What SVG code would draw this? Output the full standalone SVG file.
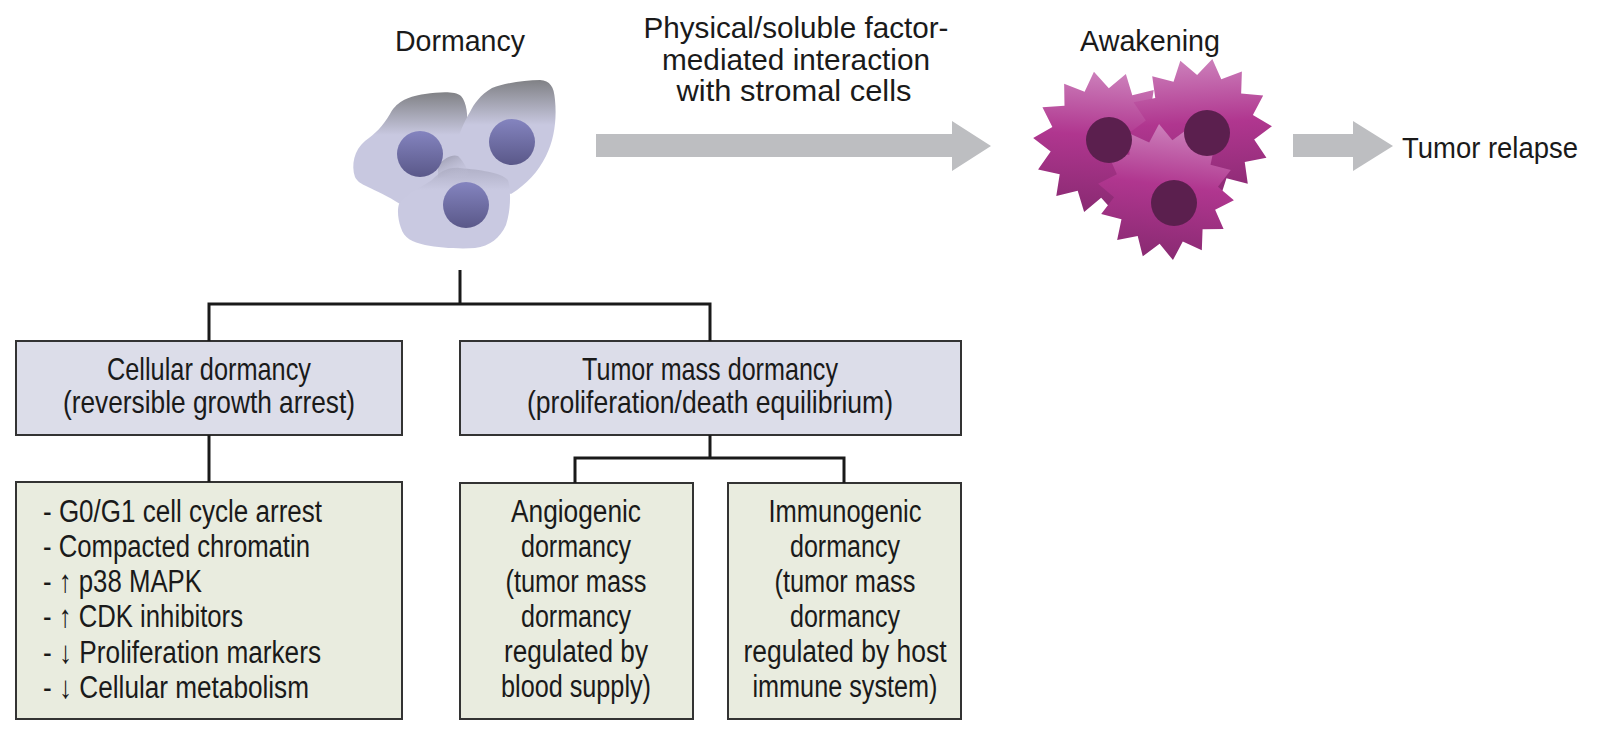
<svg xmlns="http://www.w3.org/2000/svg" xmlns:xlink="http://www.w3.org/1999/xlink" width="1600" height="736" viewBox="0 0 1600 736">
<style>
  text { font-family: "Liberation Sans", Arial, sans-serif; fill: #1a1a1a; }
  .top { font-size: 30px; }
  .bx { font-size: 32px; text-anchor: middle; }
  .ls { font-size: 31px; }
  .c { text-anchor: middle; }
  .boxU { fill: #dcdde9; stroke: #333; stroke-width: 2; }
  .boxL { fill: #e9ecdf; stroke: #333; stroke-width: 2; }
  .conn { fill: none; stroke: #1a1a1a; stroke-width: 3; }
  .garrow { fill: #bdbec1; }
  .nucD { fill: url(#nucDg); }
  .nucA { fill: #5b1f4e; }
</style>
<defs>
  <linearGradient id="cell1g" gradientUnits="userSpaceOnUse" x1="0" y1="92" x2="0" y2="135">
    <stop offset="0" stop-color="#808185"/>
    <stop offset="1" stop-color="#c8c8e0"/>
  </linearGradient>
  <linearGradient id="cell2g" gradientUnits="userSpaceOnUse" x1="0" y1="80" x2="0" y2="125">
    <stop offset="0" stop-color="#808185"/>
    <stop offset="1" stop-color="#c8c8e0"/>
  </linearGradient>
  <linearGradient id="cell3g" gradientUnits="userSpaceOnUse" x1="0" y1="160" x2="0" y2="190">
    <stop offset="0" stop-color="#a8a8be"/>
    <stop offset="1" stop-color="#c9c9e1"/>
  </linearGradient>
  <linearGradient id="shadowg" gradientUnits="userSpaceOnUse" x1="445" y1="150" x2="460" y2="180">
    <stop offset="0" stop-color="#8e8ea0"/>
    <stop offset="1" stop-color="#c8c8e0" stop-opacity="0"/>
  </linearGradient>
  <linearGradient id="nucDg" x1="0" y1="0" x2="0" y2="1">
    <stop offset="0" stop-color="#8484bf"/>
    <stop offset="1" stop-color="#5a5889"/>
  </linearGradient>
  <linearGradient id="starG" x1="0" y1="0" x2="0" y2="1">
    <stop offset="0" stop-color="#cc80bb"/>
    <stop offset="0.45" stop-color="#b0368f"/>
    <stop offset="1" stop-color="#892a72"/>
  </linearGradient>
  <path id="star" d="M72,0 L53.6,12.2 L64.9,31.2 L43,34.3 L44.9,56.3 L23.9,49.6 L16,70.2 L0,55 L-16,70.2 L-23.9,49.6 L-44.9,56.3 L-43,34.3 L-64.9,31.2 L-53.6,12.2 L-72,0 L-53.6,-12.2 L-64.9,-31.2 L-43,-34.3 L-44.9,-56.3 L-23.9,-49.6 L-16,-70.2 L0,-55 L16,-70.2 L23.9,-49.6 L44.9,-56.3 L43,-34.3 L64.9,-31.2 L53.6,-12.2 Z" fill="url(#starG)"/>
</defs>
<rect width="1600" height="736" fill="#ffffff"/>

<g id="dormancy">
  <text class="top c" x="460" y="51" textLength="130" lengthAdjust="spacingAndGlyphs">Dormancy</text>
  <path d="M355,177 C351,165 354,150 365,141 C375,134 383,126 390,114 C396,103 405,97 425,94 C440,92 455,91 461,96 C467,103 468,115 467,130 L470,185 L430,200 L400,204 C388,196 376,191 368,187 C361,184 357,181 355,177 Z" fill="url(#cell1g)"/>
  <path d="M470,112 C474,104 480,95 492,88 C505,83 525,80 540,80 C550,81 554,86 555,100 C557,120 554,140 546,156 C538,172 527,184 511,194 L490,185 L452,172 C452,150 462,125 470,112 Z" fill="url(#cell2g)"/>
  <path d="M399,204 C406,194 420,188 432,180 C440,172 447,167 460,168 C480,170 500,172 508,180 C511,190 511,210 506,225 C500,238 490,246 475,248 C460,249 440,248 425,245 C412,242 404,238 401,228 C398,220 397,210 399,204 Z" fill="url(#cell3g)"/>
  <path d="M438,165 C445,158 452,154 458,156 C464,162 468,170 470,178 C460,176 448,176 438,178 Z" fill="url(#shadowg)"/>
  <circle class="nucD" cx="420" cy="154" r="23"/>
  <circle class="nucD" cx="512" cy="142" r="23"/>
  <circle class="nucD" cx="466" cy="205" r="23"/>
</g>

<g id="interaction">
  <text class="top c" x="796" y="38" textLength="305" lengthAdjust="spacingAndGlyphs">Physical/soluble factor-</text>
  <text class="top c" x="796" y="70" textLength="268" lengthAdjust="spacingAndGlyphs">mediated interaction</text>
  <text class="top c" x="794" y="101" textLength="235" lengthAdjust="spacingAndGlyphs">with stromal cells</text>
</g>

<g id="awakening">
  <text class="top c" x="1150" y="51" textLength="140" lengthAdjust="spacingAndGlyphs">Awakening</text>
  <use xlink:href="#star" transform="translate(1105,143) rotate(4)"/>
  <use xlink:href="#star" transform="translate(1200,130) rotate(-3)"/>
  <use xlink:href="#star" transform="translate(1166,192) rotate(7) scale(0.95)"/>
  <circle class="nucA" cx="1109" cy="140" r="23"/>
  <circle class="nucA" cx="1207" cy="133" r="23"/>
  <circle class="nucA" cx="1174" cy="203" r="23"/>
</g>

<g id="relapse">
  <text class="top" x="1402" y="158" textLength="176" lengthAdjust="spacingAndGlyphs">Tumor relapse</text>
</g>

<g id="cellular">
  <rect class="boxU" x="16" y="341" width="386" height="94"/>
  <text class="bx" x="209" y="380" textLength="204" lengthAdjust="spacingAndGlyphs">Cellular dormancy</text>
  <text class="bx" x="209" y="413" textLength="292" lengthAdjust="spacingAndGlyphs">(reversible growth arrest)</text>
</g>

<g id="tumormass">
  <rect class="boxU" x="460" y="341" width="501" height="94"/>
  <text class="bx" x="710" y="380" textLength="256" lengthAdjust="spacingAndGlyphs">Tumor mass dormancy</text>
  <text class="bx" x="710" y="413" textLength="366" lengthAdjust="spacingAndGlyphs">(proliferation/death equilibrium)</text>
</g>

<g id="features">
  <rect class="boxL" x="16" y="482" width="386" height="237"/>
  <text class="ls" x="43" y="522" textLength="279" lengthAdjust="spacingAndGlyphs">- G0/G1 cell cycle arrest</text>
  <text class="ls" x="43" y="557" textLength="267" lengthAdjust="spacingAndGlyphs">- Compacted chromatin</text>
  <text class="ls" x="43" y="592" textLength="159" lengthAdjust="spacingAndGlyphs">- ↑ p38 MAPK</text>
  <text class="ls" x="43" y="627" textLength="200" lengthAdjust="spacingAndGlyphs">- ↑ CDK inhibitors</text>
  <text class="ls" x="43" y="663" textLength="278" lengthAdjust="spacingAndGlyphs">- ↓ Proliferation markers</text>
  <text class="ls" x="43" y="698" textLength="266" lengthAdjust="spacingAndGlyphs">- ↓ Cellular metabolism</text>
</g>

<g id="angiogenic">
  <rect class="boxL" x="460" y="483" width="233" height="236"/>
  <text class="ls c" x="576" y="522" textLength="130" lengthAdjust="spacingAndGlyphs">Angiogenic</text>
  <text class="ls c" x="576" y="557" textLength="110" lengthAdjust="spacingAndGlyphs">dormancy</text>
  <text class="ls c" x="576" y="592" textLength="141" lengthAdjust="spacingAndGlyphs">(tumor mass</text>
  <text class="ls c" x="576" y="627" textLength="110" lengthAdjust="spacingAndGlyphs">dormancy</text>
  <text class="ls c" x="576" y="662" textLength="144" lengthAdjust="spacingAndGlyphs">regulated by</text>
  <text class="ls c" x="576" y="697" textLength="150" lengthAdjust="spacingAndGlyphs">blood supply)</text>
</g>

<g id="immunogenic">
  <rect class="boxL" x="728" y="483" width="233" height="236"/>
  <text class="ls c" x="845" y="522" textLength="153" lengthAdjust="spacingAndGlyphs">Immunogenic</text>
  <text class="ls c" x="845" y="557" textLength="110" lengthAdjust="spacingAndGlyphs">dormancy</text>
  <text class="ls c" x="845" y="592" textLength="141" lengthAdjust="spacingAndGlyphs">(tumor mass</text>
  <text class="ls c" x="845" y="627" textLength="110" lengthAdjust="spacingAndGlyphs">dormancy</text>
  <text class="ls c" x="845" y="662" textLength="203" lengthAdjust="spacingAndGlyphs">regulated by host</text>
  <text class="ls c" x="845" y="697" textLength="185" lengthAdjust="spacingAndGlyphs">immune system)</text>
</g>

<g id="connectors">
  <polygon class="garrow" points="596,134 952,134 952,121 991,146 952,171 952,157 596,157"/>
  <polygon class="garrow" points="1293,134 1353,134 1353,121 1393,146 1353,171 1353,157 1293,157"/>
  <path class="conn" d="M460,270 V304 M209,341 V304 H710 V341"/>
  <path class="conn" d="M209,435 V482"/>
  <path class="conn" d="M710,435 V458 M575,483 V458 H844 V483"/>
</g>
</svg>
